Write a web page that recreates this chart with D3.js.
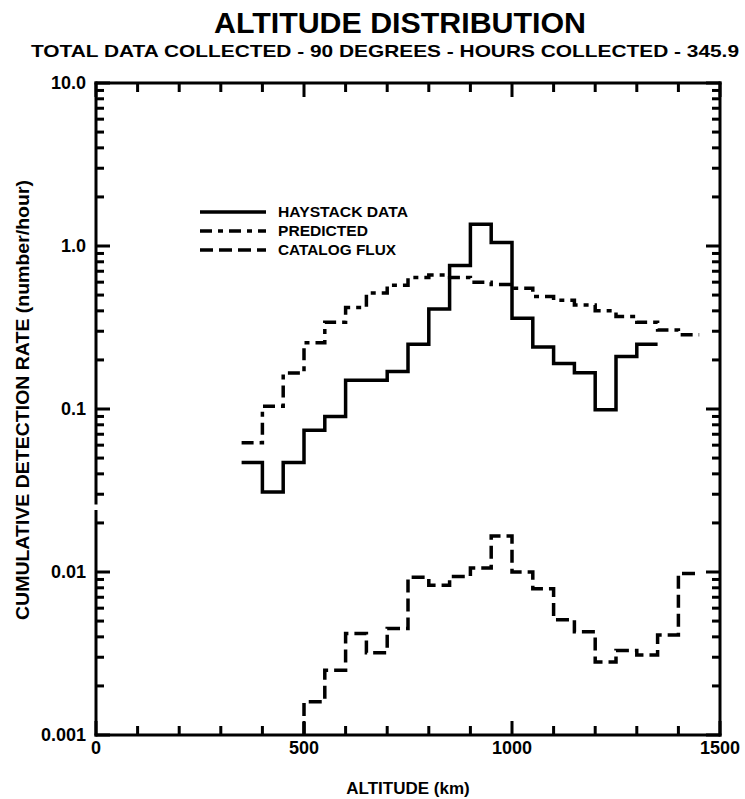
<!DOCTYPE html>
<html>
<head>
<meta charset="utf-8">
<script src="https://cdn.jsdelivr.net/npm/d3@7"></script>
<style>
body { margin: 0; background: #fff; }
svg { display: block; font-family: "Liberation Sans", Arial, sans-serif; }
</style>
</head>
<body>
<div id="chart"></div>
<script>
// each bin is 50 km wide, arrays hold the bin start altitude
var binWidth = 50;

var haystackAlt = [350, 400, 450, 500, 550, 600, 650, 700, 750, 800, 850, 900, 950, 1000, 1050, 1100, 1150, 1200, 1250, 1300];
var haystackRate = [0.047, 0.031, 0.047, 0.074, 0.09, 0.15, 0.15, 0.17, 0.25, 0.41, 0.76, 1.36, 1.05, 0.36, 0.24, 0.19, 0.167, 0.099, 0.21, 0.25];

var predictedAlt = [350, 400, 450, 500, 550, 600, 650, 700, 750, 800, 850, 900, 950, 1000, 1050, 1100, 1150, 1200, 1250, 1300, 1350, 1400];
var predictedRate = [0.062, 0.104, 0.166, 0.255, 0.34, 0.42, 0.515, 0.575, 0.64, 0.665, 0.64, 0.6, 0.58, 0.55, 0.49, 0.465, 0.435, 0.4, 0.37, 0.34, 0.305, 0.285];

var catalogAlt = [500, 550, 600, 650, 700, 750, 800, 850, 900, 950, 1000, 1050, 1100, 1150, 1200, 1250, 1300, 1350, 1400];
var catalogRate = [0.0016, 0.0025, 0.0042, 0.0032, 0.0045, 0.0093, 0.0083, 0.0094, 0.0106, 0.0166, 0.01, 0.0079, 0.0051, 0.0043, 0.0028, 0.0033, 0.0031, 0.0041, 0.0098];

var xTicks = [0, 100, 200, 300, 400, 500, 600, 700, 800, 900, 1000, 1100, 1200, 1300, 1400, 1500];
var xLabelled = [0, 500, 1000, 1500];
var yDecades = [0.001, 0.01, 0.1, 1, 10];
var yLabels = ["0.001", "0.01", "0.1", "1.0", "10.0"];

var legendNames = ["HAYSTACK DATA", "PREDICTED", "CATALOG FLUX"];
var legendDash = [null, "12,6,5,6", "13,6"];

var width = 745, height = 799;
var plot = {left: 96, right: 720, top: 83, bottom: 735};

var svg = d3.select("#chart").append("svg")
	.attr("width", width)
	.attr("height", height);

var x = d3.scaleLinear().domain([0, 1500]).range([plot.left, plot.right]);
var y = d3.scaleLog().domain([0.001, 10]).range([plot.bottom, plot.top]);

// minor log ticks 1..9 per decade
var yTicks = [];
yDecades.forEach(function(dec) {
	if (dec === 10) { yTicks.push(10); return; }
	for (var k = 1; k <= 9; k++) yTicks.push(+(dec * k).toPrecision(3));
});

var xMajor = function(d) { return xLabelled.indexOf(d) >= 0; };
var yMajor = function(d) { return yDecades.indexOf(d) >= 0; };

// titles
svg.append("text")
	.attr("x", 400).attr("y", 33)
	.attr("text-anchor", "middle")
	.attr("font-size", 29).attr("font-weight", "bold")
	.attr("textLength", 372).attr("lengthAdjust", "spacingAndGlyphs")
	.text("ALTITUDE DISTRIBUTION");

svg.append("text")
	.attr("x", 385).attr("y", 57)
	.attr("text-anchor", "middle")
	.attr("font-size", 17).attr("font-weight", "bold")
	.attr("textLength", 708).attr("lengthAdjust", "spacingAndGlyphs")
	.text("TOTAL DATA COLLECTED - 90 DEGREES - HOURS COLLECTED - 345.9");

// inward ticks on all four sides, as small filled rects
var tickW = 3;
var tickG = svg.append("g").attr("fill", "#000");
xTicks.forEach(function(d) {
	var len = xMajor(d) ? 14 : 9;
	tickG.append("rect").attr("x", x(d) - tickW / 2).attr("y", plot.bottom - len).attr("width", tickW).attr("height", len);
	tickG.append("rect").attr("x", x(d) - tickW / 2).attr("y", plot.top).attr("width", tickW).attr("height", len);
});
yTicks.forEach(function(d) {
	var len = yMajor(d) ? 14 : 8;
	tickG.append("rect").attr("x", plot.left).attr("y", y(d) - tickW / 2).attr("width", len).attr("height", tickW);
	tickG.append("rect").attr("x", plot.right - len).attr("y", y(d) - tickW / 2).attr("width", len).attr("height", tickW);
});

// tick labels
svg.append("g").selectAll("text")
	.data(xLabelled).enter().append("text")
	.attr("x", function(d) { return x(d); })
	.attr("y", plot.bottom + 19)
	.attr("text-anchor", "middle")
	.attr("font-size", 18).attr("font-weight", "bold")
	.text(function(d) { return d; });

svg.append("g").selectAll("text")
	.data(yDecades).enter().append("text")
	.attr("x", plot.left - 10)
	.attr("y", function(d) { return y(d); })
	.attr("dy", "0.35em")
	.attr("text-anchor", "end")
	.attr("font-size", 18).attr("font-weight", "bold")
	.text(function(d, i) { return yLabels[i]; });

// frame, the left side has a small break near 0.025
var frame = svg.append("g").attr("stroke", "#000").attr("stroke-width", 3).attr("stroke-linecap", "square");
frame.append("line").attr("x1", plot.left).attr("x2", plot.right).attr("y1", plot.top).attr("y2", plot.top);
frame.append("line").attr("x1", plot.left).attr("x2", plot.right).attr("y1", plot.bottom).attr("y2", plot.bottom);
frame.append("line").attr("x1", plot.right).attr("x2", plot.right).attr("y1", plot.top).attr("y2", plot.bottom);
frame.append("line").attr("x1", plot.left).attr("x2", plot.left).attr("y1", plot.top).attr("y2", y(0.0265));
frame.append("line").attr("x1", plot.left).attr("x2", plot.left).attr("y1", y(0.0235)).attr("y2", plot.bottom);

// axis titles
svg.append("text")
	.attr("x", (plot.left + plot.right) / 2).attr("y", 794)
	.attr("text-anchor", "middle")
	.attr("font-size", 17).attr("font-weight", "bold")
	.text("ALTITUDE (km)");

svg.append("text")
	.attr("transform", "translate(29,400) rotate(-90)")
	.attr("text-anchor", "middle")
	.attr("font-size", 18).attr("font-weight", "bold")
	.attr("textLength", 440).attr("lengthAdjust", "spacingAndGlyphs")
	.text("CUMULATIVE DETECTION RATE (number/hour)");

// step series
function steps(alts, rates, floor) {
	var pts = alts.map(function(a, i) { return [a, rates[i]]; });
	pts.push([alts[alts.length - 1] + binWidth, rates[rates.length - 1]]);
	if (floor) pts.unshift([alts[0], floor]);
	return pts;
}

var line = d3.line()
	.x(function(d) { return x(d[0]); })
	.y(function(d) { return y(d[1]); })
	.curve(d3.curveStepAfter);

var series = [
	steps(haystackAlt, haystackRate),
	steps(predictedAlt, predictedRate),
	steps(catalogAlt, catalogRate, y.domain()[0])
];

svg.append("g").selectAll("path")
	.data(series)
	.enter().append("path")
	.attr("d", line)
	.attr("fill", "none")
	.attr("stroke", "#000")
	.attr("stroke-width", 3.5)
	.attr("stroke-dasharray", function(d, i) { return legendDash[i]; });

// legend
var legendWidths = [130, 90, 118];
var legend = svg.append("g").attr("transform", "translate(200,212)");
var rows = legend.selectAll("g")
	.data(legendNames)
	.enter().append("g")
	.attr("transform", function(d, i) { return "translate(0," + (i * 19) + ")"; });

rows.append("line")
	.attr("x1", 0).attr("x2", 66)
	.attr("stroke", "#000")
	.attr("stroke-width", 3.5)
	.attr("stroke-dasharray", function(d, i) { return legendDash[i]; });

rows.append("text")
	.attr("x", 78).attr("y", 5)
	.attr("font-size", 14).attr("font-weight", "bold")
	.attr("textLength", function(d, i) { return legendWidths[i]; })
	.attr("lengthAdjust", "spacingAndGlyphs")
	.text(function(d) { return d; });
</script>
</body>
</html>
